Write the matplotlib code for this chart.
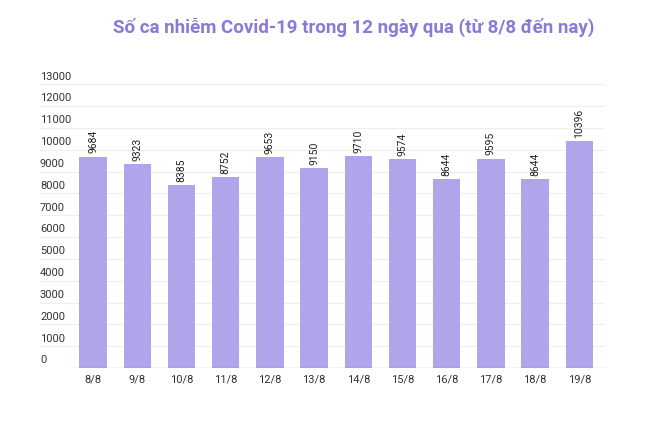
import matplotlib.pyplot as plt
import matplotlib.transforms as mtransforms

days = ['8/8', '9/8', '10/8', '11/8', '12/8', '13/8', '14/8', '15/8', '16/8', '17/8', '18/8', '19/8']
cases = [9684, 9323, 8385, 8752, 9653, 9150, 9710, 9574, 8644, 9595, 8644, 10396]
yticks = list(range(0, 14000, 1000))

plt.rcParams['font.family'] = ['Roboto', 'DejaVu Sans']
fig = plt.figure(figsize=(6.71, 4.25), dpi=100)
ax = fig.add_axes([0.0596, 0.134, 0.842, 0.668])

x = list(range(len(days)))
ax.bar(x, cases, width=0.62, color='#b0a4ea', zorder=3)
for xi, v in zip(x, cases):
    ax.text(xi, v + 150, str(v), rotation=90, ha='center', va='bottom', fontsize=7.5, color='#222222')

ax.set_xlim(-1.2, 11.58)
ax.set_ylim(0, 13000)
for t in yticks:
    ax.axhline(t, color='#eeeeee', lw=0.8, zorder=1)
trans = mtransforms.blended_transform_factory(ax.transAxes, ax.transData)
for t in yticks:
    ax.text(0, t + 120, str(t), transform=trans, ha='left', va='bottom', fontsize=8, color='#333333')
ax.plot([-0.4, 11.58], [0, 0], color='#555555', lw=0.8, zorder=4)

ax.set_xticks(x)
ax.set_xticklabels(days, fontsize=8, color='#333333')
ax.tick_params(axis='x', length=0, pad=5)
ax.set_yticks([])
for s in ax.spines.values():
    s.set_visible(False)

fig.text(0.527, 0.935, 'Số ca nhiễm Covid-19 trong 12 ngày qua (từ 8/8 đến nay)', ha='center', va='center',
         fontsize=13.5, fontweight='bold', color='#8a79d8')

fig.savefig('out.png', dpi=100)
